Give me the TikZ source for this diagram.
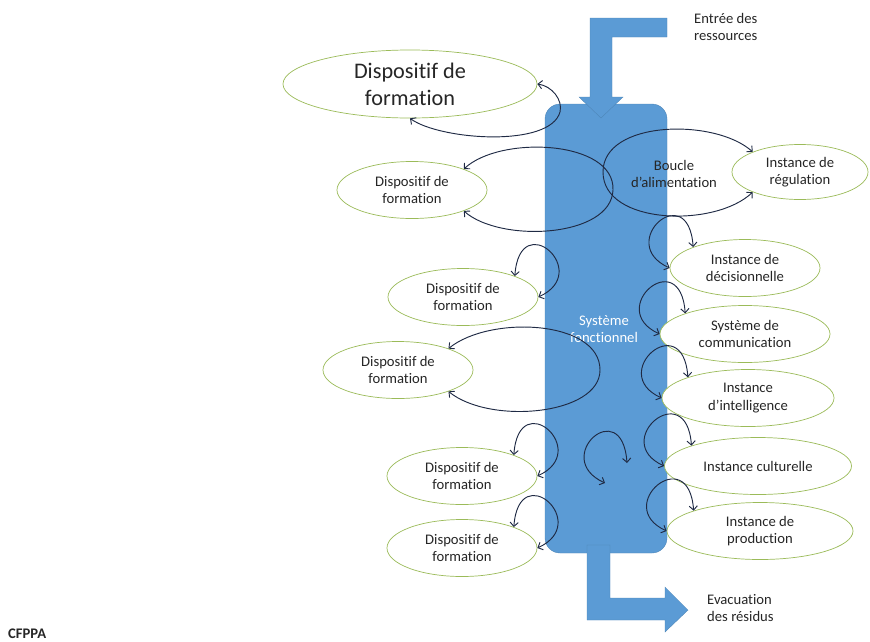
\documentclass[tikz,border=0pt]{standalone}
\usepackage{fontspec}
\setmainfont{Carlito}[Ligatures={TeX,NoCommon}]
\usepackage{tikz}
\usetikzlibrary{arrows.meta,shapes.geometric}
\definecolor{sysblue}{HTML}{5B9BD5}
\definecolor{ringgreen}{HTML}{9BBB59}
\definecolor{loopnavy}{HTML}{1F2A44}
\definecolor{ink}{HTML}{262626}
\tikzset{
  block/.style={fill=sysblue,draw=sysblue!85!black,line width=.3pt},
  oval/.style={ellipse,draw=ringgreen,fill=white,line width=.6pt,inner sep=0pt,align=center,minimum height=1.71cm,text=ink,font=\fontsize{12.5}{15}\selectfont},
  frm/.style={oval,minimum width=4.5cm},
  lp/.style={<->,>={Straight Barb[length=3.5pt,width=7pt]},draw=loopnavy,line width=.8pt},
  lbl/.style={font=\fontsize{12.5}{15}\selectfont,text=ink,inner sep=0pt}
}

\begin{document}
\begin{tikzpicture}[x=.03cm,y=-.03cm]
  \useasboundingbox (0,0) rectangle (870,641);
  % column and flow arrows
  \draw[block,rounded corners=.45cm] (545,104) rectangle (667,553);
  \draw[block] (667,18) -- (590,18) -- (590,97) -- (579,97) -- (601,118) -- (623,97) -- (612,97) -- (612,37) -- (667,37) -- cycle;
  \draw[block] (587,545) -- (610,545) -- (610,598) -- (665,598) -- (665,587) -- (688,610) -- (665,632) -- (665,620) -- (587,620) -- cycle;
  % ellipses
  \node[oval,minimum width=7.62cm,minimum height=2.04cm,inner ysep=-2pt,font=\fontsize{19}{23}\selectfont] (big) at (410,84) {Dispositif de\\formation};
  \node[oval,minimum width=4.08cm,minimum height=1.65cm] (reg) at (800,172) {Instance de\\régulation};
  \node[frm] (f2) at (412,190) {Dispositif de\\formation};
  \node[oval,minimum width=4.5cm] (dec) at (745,268) {Instance de\\décisionnelle};
  \node[frm] (f3) at (463,297) {Dispositif de\\formation};
  \node[oval,minimum width=5.1cm] (com) at (745,334) {Système de\\communication};
  \node[frm] (f4) at (398,370) {Dispositif de\\formation};
  \node[oval,minimum width=5.16cm] (int) at (748,398) {Instance\\d'intelligence};
  \node[frm] (f5) at (462,476) {Dispositif de\\formation};
  \node[oval,minimum width=5.61cm] (cul) at (758,466) {Instance culturelle};
  \node[frm] (f6) at (462,548) {Dispositif de\\formation};
  \node[oval,minimum width=5.58cm] (prod) at (760,531) {Instance de\\production};
  % labels
  \node[lbl,anchor=west,align=left] (entree) at (694,27) {Entrée des\\ressources};
  \node[lbl,anchor=west,align=left] (evac) at (707,608) {Evacuation\\des résidus};
  \node[lbl,align=center,text=white] (sys) at (604,329) {Système\\fonctionnel};
  \node[lbl,align=center] (boucle) at (674,174) {Boucle\\d'alimentation};
  \node[lbl,font=\fontsize{12.5}{15}\selectfont\bfseries,anchor=north west] (cfppa) at (8,629) {CFPPA};
  % loops
  \draw[lp] (big.south) .. controls (440,140) and (550,148) .. (560,112) .. controls (563,100) and (552,86) .. (big.east);
  \draw[lp] (f2.22) .. controls (500,135) and (615,140) .. (613,190) .. controls (611,238) and (500,243) .. (f2.-22);
  \draw[lp] (reg.157) .. controls (715,118) and (603,120) .. (603,172) .. controls (603,225) and (715,228) .. (reg.203);
  \draw[lp] (f4.23) .. controls (490,315) and (600,320) .. (600,370) .. controls (600,415) and (490,425) .. (f4.-23);
  \foreach \n/\a in {dec/158,com/161,int/161,cul/163,prod/163}
    \draw[lp] (\n.\a) .. controls +(-5,-70) and +(-55,-25) .. (\n.west);
  \foreach \n in {f3,f5,f6}
    \draw[lp] (\n.22) .. controls +(5,-70) and +(55,-25) .. (\n.east);
  \coordinate (swirlA) at (627,463);
  \coordinate (swirlB) at (605,483);
  \draw[lp] (swirlA) .. controls +(-5,-70) and +(-55,-25) .. (swirlB);
\end{tikzpicture}
\end{document}
